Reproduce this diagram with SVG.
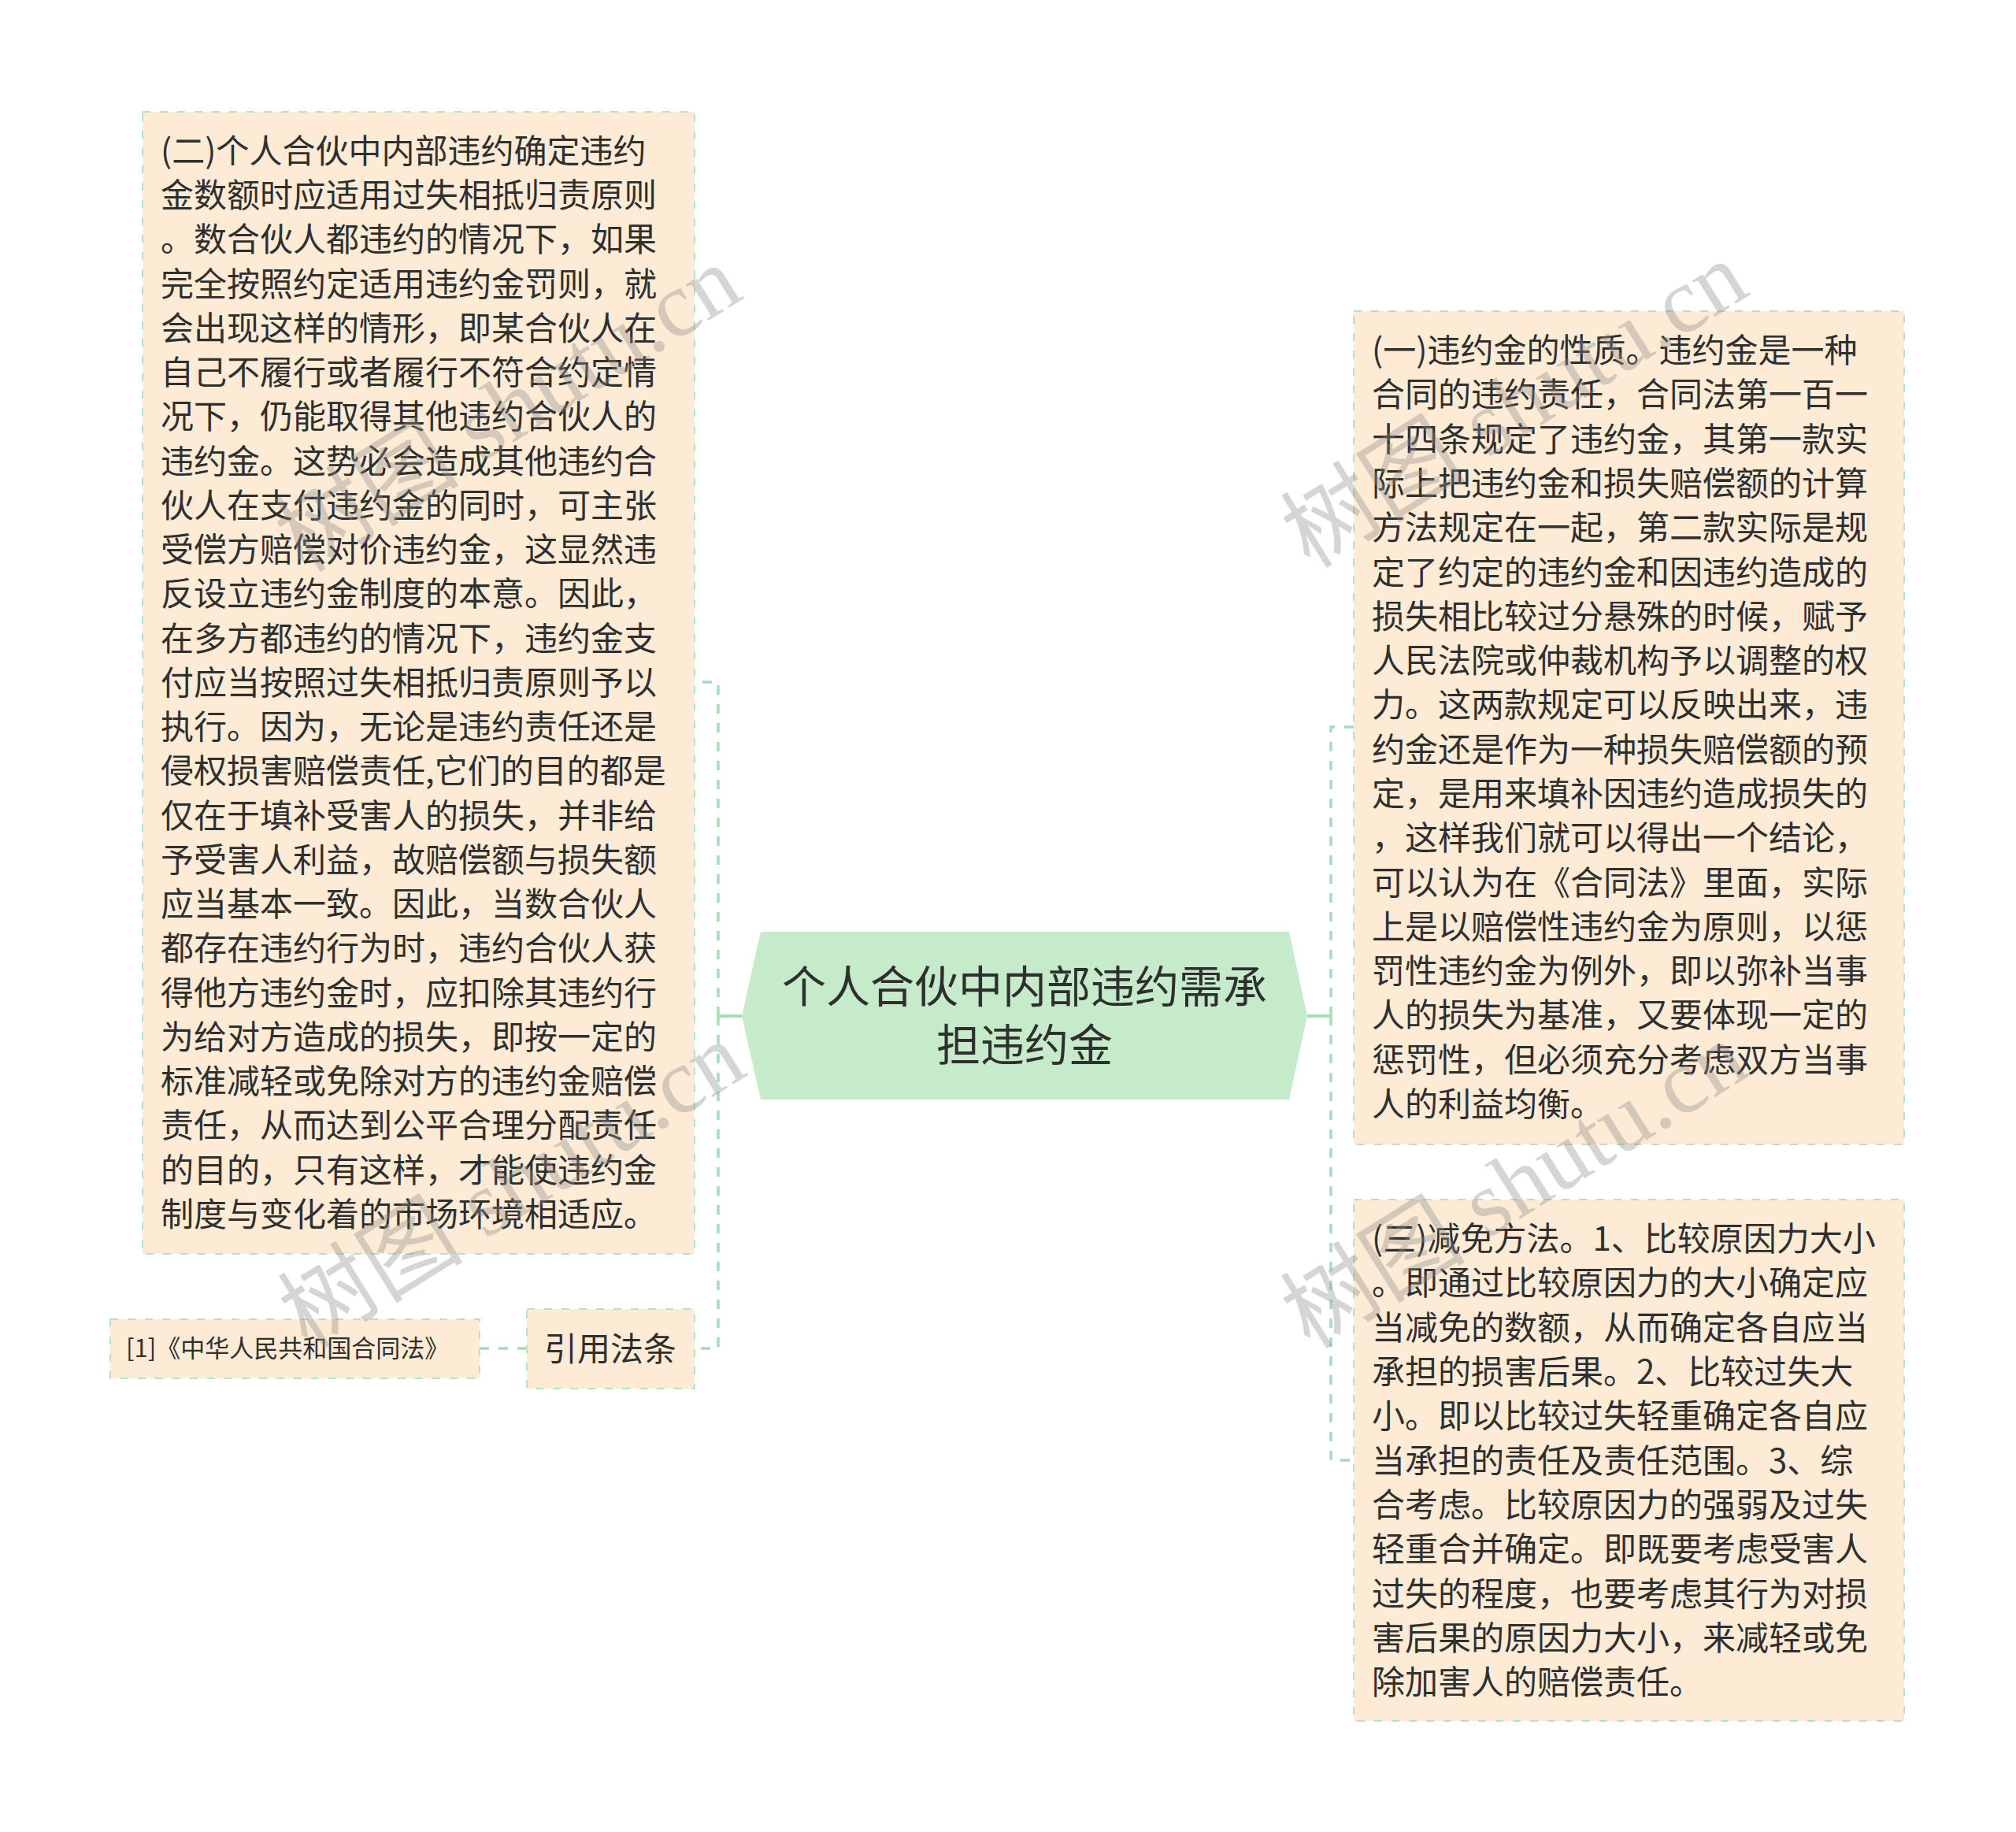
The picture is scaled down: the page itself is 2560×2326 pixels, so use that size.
<svg xmlns="http://www.w3.org/2000/svg" width="2560" height="2326" viewBox="0 0 2560 2326">
<style>
.bg{fill:#ffffff}
.box{fill:#fdebd6;stroke:#b8e2c4;stroke-width:2;stroke-dasharray:10 12}
.center{fill:#c5ebcb}
.t{font-family:"Noto Sans CJK SC","Noto Sans",sans-serif;fill:#2f2f2f}
.body{font-size:42px}
.conn{fill:none;stroke:#a8dcb7;stroke-width:3.5;stroke-dasharray:12 12}
.stub{fill:none;stroke:#a8dcb7;stroke-width:4}
.wm{font-family:"Liberation Serif","Noto Sans CJK SC",serif;font-size:118px;fill:#8a8a8a;fill-opacity:0.36}
</style>
<rect class="bg" x="0" y="0" width="2560" height="2326"/>

<g id="connectors">
<path class="stub" d="M942 1290 H912"/>
<path class="conn" d="M912 1290 V866 H882"/>
<path class="conn" d="M912 1290 V1712 H882"/>
<path class="conn" d="M669 1712 H609"/>
<path class="stub" d="M1660 1290 H1690"/>
<path class="conn" d="M1690 1290 V923 H1719"/>
<path class="conn" d="M1690 1290 V1854 H1719"/>
</g>

<g id="node-center">
<polygon class="center" points="966,1183 1637,1183 1660,1290 1637,1396 966,1396 942,1290"/>
<text class="t" font-size="56" text-anchor="middle" x="1301" y="1273">个人合伙中内部违约需承</text>
<text class="t" font-size="56" text-anchor="middle" x="1301" y="1347">担违约金</text>
</g>

<g id="node-left-main">
<rect class="box" x="181" y="142" width="701" height="1450"/>
<text class="t body" x="204">
<tspan x="204" y="207">(二)个人合伙中内部违约确定违约</tspan>
<tspan x="204" y="263">金数额时应适用过失相抵归责原则</tspan>
<tspan x="204" y="319">。数合伙人都违约的情况下，如果</tspan>
<tspan x="204" y="376">完全按照约定适用违约金罚则，就</tspan>
<tspan x="204" y="432">会出现这样的情形，即某合伙人在</tspan>
<tspan x="204" y="488">自己不履行或者履行不符合约定情</tspan>
<tspan x="204" y="544">况下，仍能取得其他违约合伙人的</tspan>
<tspan x="204" y="601">违约金。这势必会造成其他违约合</tspan>
<tspan x="204" y="657">伙人在支付违约金的同时，可主张</tspan>
<tspan x="204" y="713">受偿方赔偿对价违约金，这显然违</tspan>
<tspan x="204" y="769">反设立违约金制度的本意。因此，</tspan>
<tspan x="204" y="826">在多方都违约的情况下，违约金支</tspan>
<tspan x="204" y="882">付应当按照过失相抵归责原则予以</tspan>
<tspan x="204" y="938">执行。因为，无论是违约责任还是</tspan>
<tspan x="204" y="994">侵权损害赔偿责任,它们的目的都是</tspan>
<tspan x="204" y="1051">仅在于填补受害人的损失，并非给</tspan>
<tspan x="204" y="1107">予受害人利益，故赔偿额与损失额</tspan>
<tspan x="204" y="1163">应当基本一致。因此，当数合伙人</tspan>
<tspan x="204" y="1219">都存在违约行为时，违约合伙人获</tspan>
<tspan x="204" y="1276">得他方违约金时，应扣除其违约行</tspan>
<tspan x="204" y="1332">为给对方造成的损失，即按一定的</tspan>
<tspan x="204" y="1388">标准减轻或免除对方的违约金赔偿</tspan>
<tspan x="204" y="1444">责任，从而达到公平合理分配责任</tspan>
<tspan x="204" y="1501">的目的，只有这样，才能使违约金</tspan>
<tspan x="204" y="1557">制度与变化着的市场环境相适应。</tspan>
</text>
</g>

<g id="node-cite">
<rect class="box" x="669" y="1662" width="213" height="101"/>
<text class="t" font-size="42" text-anchor="middle" x="775" y="1728">引用法条</text>
</g>

<g id="node-cite-law">
<rect class="box" x="140" y="1675" width="469" height="75"/>
<text class="t" font-size="31" x="160" y="1723">[1]《中华人民共和国合同法》</text>
</g>

<g id="node-right-1">
<rect class="box" x="1719" y="395" width="699" height="1058"/>
<text class="t body" x="1742">
<tspan x="1742" y="460">(一)违约金的性质。违约金是一种</tspan>
<tspan x="1742" y="516">合同的违约责任，合同法第一百一</tspan>
<tspan x="1742" y="573">十四条规定了违约金，其第一款实</tspan>
<tspan x="1742" y="629">际上把违约金和损失赔偿额的计算</tspan>
<tspan x="1742" y="685">方法规定在一起，第二款实际是规</tspan>
<tspan x="1742" y="742">定了约定的违约金和因违约造成的</tspan>
<tspan x="1742" y="798">损失相比较过分悬殊的时候，赋予</tspan>
<tspan x="1742" y="854">人民法院或仲裁机构予以调整的权</tspan>
<tspan x="1742" y="910">力。这两款规定可以反映出来，违</tspan>
<tspan x="1742" y="967">约金还是作为一种损失赔偿额的预</tspan>
<tspan x="1742" y="1023">定，是用来填补因违约造成损失的</tspan>
<tspan x="1742" y="1079">，这样我们就可以得出一个结论，</tspan>
<tspan x="1742" y="1136">可以认为在《合同法》里面，实际</tspan>
<tspan x="1742" y="1192">上是以赔偿性违约金为原则，以惩</tspan>
<tspan x="1742" y="1248">罚性违约金为例外，即以弥补当事</tspan>
<tspan x="1742" y="1304">人的损失为基准，又要体现一定的</tspan>
<tspan x="1742" y="1361">惩罚性，但必须充分考虑双方当事</tspan>
<tspan x="1742" y="1417">人的利益均衡。</tspan>
</text>
</g>

<g id="node-right-3">
<rect class="box" x="1719" y="1523" width="699" height="662"/>
<text class="t body" x="1742">
<tspan x="1742" y="1588">(三)减免方法。1、比较原因力大小</tspan>
<tspan x="1742" y="1644">。即通过比较原因力的大小确定应</tspan>
<tspan x="1742" y="1701">当减免的数额，从而确定各自应当</tspan>
<tspan x="1742" y="1757">承担的损害后果。2、比较过失大</tspan>
<tspan x="1742" y="1813">小。即以比较过失轻重确定各自应</tspan>
<tspan x="1742" y="1870">当承担的责任及责任范围。3、综</tspan>
<tspan x="1742" y="1926">合考虑。比较原因力的强弱及过失</tspan>
<tspan x="1742" y="1982">轻重合并确定。即既要考虑受害人</tspan>
<tspan x="1742" y="2039">过失的程度，也要考虑其行为对损</tspan>
<tspan x="1742" y="2095">害后果的原因力大小，来减轻或免</tspan>
<tspan x="1742" y="2151">除加害人的赔偿责任。</tspan>
</text>
</g>

<g id="watermarks">
<text class="wm" text-anchor="middle" transform="translate(645,519) rotate(-32)" y="40">树图 shutu.cn</text>
<text class="wm" text-anchor="middle" transform="translate(650,1505) rotate(-32)" y="40">树图 shutu.cn</text>
<text class="wm" text-anchor="middle" transform="translate(1923,514) rotate(-32)" y="40">树图 shutu.cn</text>
<text class="wm" text-anchor="middle" transform="translate(1923,1505) rotate(-32)" y="40">树图 shutu.cn</text>
</g>
</svg>
